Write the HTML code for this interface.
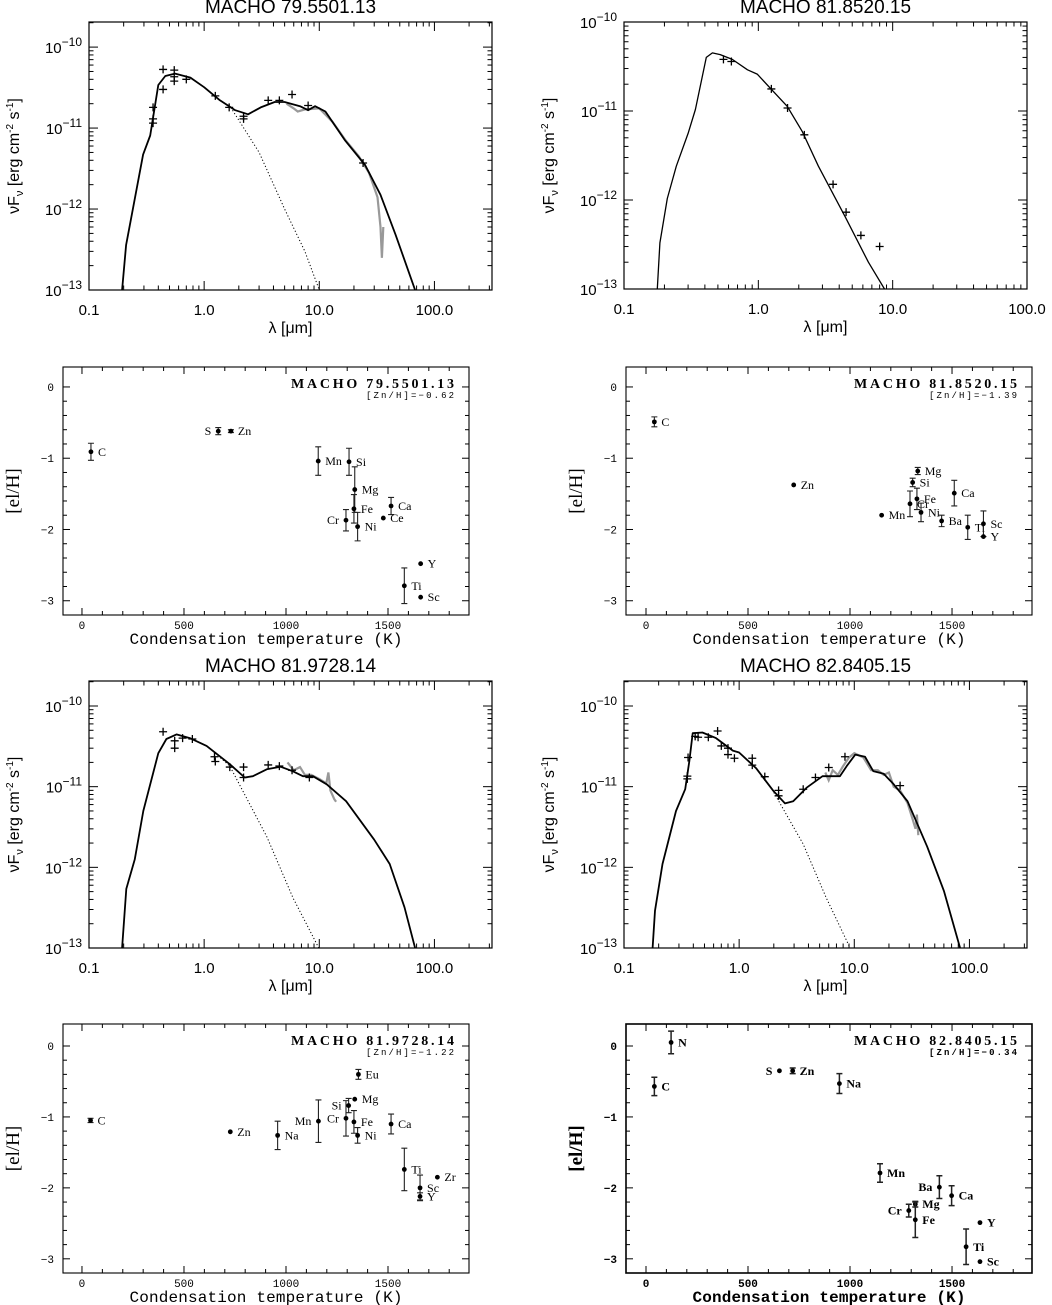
<!DOCTYPE html>
<html><head><meta charset="utf-8"><title>SED and abundance panels</title>
<style>
html,body{margin:0;padding:0;background:#fff;}
svg{display:block;}
</style></head>
<body>
<svg id="fig" width="1052" height="1305" viewBox="0 0 1052 1305" xmlns="http://www.w3.org/2000/svg"></svg>
<script>
// ---------- Panel 1: MACHO 79.5501.13 SED ----------
const p1ModelLam=[0.194,0.21,0.295,0.34,0.40,0.46,0.56,0.76,1.0,1.37,1.86,2.41,3.1,4.1,5.0,6.8,8.0,9.2,11.3,16.8,25,34,46,68];
const p1ModelF=[1e-13,3.6e-13,4.7e-12,8.1e-12,3.4e-11,4.4e-11,4.7e-11,4.2e-11,3.2e-11,2.2e-11,1.66e-11,1.48e-11,1.8e-11,2.1e-11,2.1e-11,1.86e-11,1.66e-11,1.86e-11,1.6e-11,7e-12,3.5e-12,1.5e-12,4.8e-13,1e-13];
const p1StarLam=[1.7,3,5,7.5,10];
const p1StarF=[1.8e-11,5e-12,1e-12,3e-13,1e-13];
const p1PhotLam=[0.36,0.36,0.36,0.44,0.44,0.55,0.55,0.55,0.7,1.25,1.65,2.2,2.2,3.6,4.5,5.8,8,24];
const p1PhotF=[1.8e-11,1.3e-11,1.15e-11,5.3e-11,3.0e-11,5.2e-11,4.3e-11,3.8e-11,4e-11,2.5e-11,1.8e-11,1.4e-11,1.3e-11,2.2e-11,2.2e-11,2.6e-11,1.9e-11,3.7e-12];
const p1SpecLam=[5.2,6,6.5,7.5,10,13,17,22,27,32,34,35,36];
const p1SpecF=[2.0e-11,1.75e-11,1.6e-11,1.7e-11,1.75e-11,1.2e-11,7e-12,4.5e-12,2.8e-12,1.4e-12,6e-13,2.5e-13,6e-13];
// ---------- Panel 2: MACHO 81.8520.15 SED ----------
const p2ModelLam=[0.177,0.185,0.21,0.245,0.30,0.34,0.41,0.455,0.52,0.64,0.83,0.98,1.23,1.64,2.12,2.8,4.4,6.6,8.7];
const p2ModelF=[1e-13,3.3e-13,1.04e-12,2.4e-12,5.6e-12,1.04e-11,4e-11,4.5e-11,4.3e-11,3.8e-11,2.9e-11,2.6e-11,1.8e-11,1.13e-11,5.9e-12,2.4e-12,6.6e-13,2e-13,1e-13];
const p2PhotLam=[0.55,0.63,1.25,1.65,2.2,3.6,4.5,5.8,8];
const p2PhotF=[3.8e-11,3.6e-11,1.77e-11,1.08e-11,5.4e-12,1.5e-12,7.3e-13,4e-13,3.0e-13];
// ---------- Panel 3: MACHO 81.9728.14 SED ----------
const p3ModelLam=[0.194,0.211,0.25,0.296,0.40,0.47,0.575,0.75,1.05,1.67,2.25,2.65,3.5,4.6,5.9,7.2,8.8,11.6,17.1,30,40.9,55,68];
const p3ModelF=[1e-13,5.4e-13,1.26e-12,5e-12,2.6e-11,3.9e-11,4.45e-11,4.0e-11,3.2e-11,1.9e-11,1.3e-11,1.35e-11,1.64e-11,1.77e-11,1.55e-11,1.35e-11,1.35e-11,1.07e-11,6.6e-12,2.2e-12,1.1e-12,3.2e-13,1e-13];
const p3StarLam=[1.25,1.67,3.5,5.9,9.9];
const p3StarF=[2.6e-11,1.8e-11,2.4e-12,4.2e-13,1e-13];
const p3PhotLam=[0.44,0.555,0.555,0.65,0.79,1.23,1.25,1.67,2.2,2.2,3.6,4.5,5.8,8.2];
const p3PhotF=[4.8e-11,3.7e-11,3e-11,4e-11,3.9e-11,2.35e-11,2.05e-11,1.75e-11,1.75e-11,1.3e-11,1.86e-11,1.8e-11,1.6e-11,1.3e-11];
const p3SpecLam=[5.3,6,6.8,7.5,8.5,10,11.5,12,12.5,13.5,14];
const p3SpecF=[2e-11,1.6e-11,1.75e-11,1.4e-11,1.4e-11,1.25e-11,1.1e-11,1.5e-11,9e-12,7e-12,6.5e-12];
// ---------- Panel 4: MACHO 82.8405.15 SED ----------
const p4ModelLam=[0.177,0.186,0.216,0.283,0.34,0.37,0.395,0.48,0.63,0.88,1.0,1.4,1.98,2.5,2.95,3.85,5.3,7.5,8.6,10.2,12.4,14.6,18,22,29,43,60,83];
const p4ModelF=[1e-13,2.9e-13,1.1e-12,5e-12,9.3e-12,2.1e-11,4.6e-11,4.7e-11,4e-11,2.8e-11,2.65e-11,1.7e-11,8.9e-12,6.2e-12,6.6e-12,9.7e-12,1.35e-11,1.35e-11,1.8e-11,2.5e-11,2.35e-11,1.56e-11,1.45e-11,1.07e-11,6.6e-12,1.8e-12,5.1e-13,1e-13];
const p4StarLam=[2.0,3.6,5.7,9.2];
const p4StarF=[8.5e-12,1.94e-12,4.2e-13,1e-13];
const p4PhotLam=[0.355,0.355,0.36,0.415,0.44,0.54,0.65,0.70,0.8,0.8,0.91,1.3,1.3,1.67,2.2,2.2,3.6,4.6,6.0,8.3,25];
const p4PhotF=[1.35e-11,1.25e-11,2.3e-11,4.2e-11,4.1e-11,4.1e-11,4.9e-11,3.2e-11,3e-11,2.5e-11,2.25e-11,2.25e-11,1.85e-11,1.33e-11,9e-12,7.7e-12,9.3e-12,1.3e-11,1.73e-11,2.35e-11,1.03e-11];
const p4SpecLam=[5.6,6,6.5,7.2,8,9,10,12,14,16,18,20,22,25,29,32,34,35,36];
const p4SpecF=[1.5e-11,1.2e-11,1.6e-11,1.4e-11,1.8e-11,2.3e-11,2.6e-11,2.3e-11,1.6e-11,1.6e-11,1.4e-11,1.5e-11,1e-11,9e-12,6.3e-12,4e-12,3e-12,4.5e-12,2.5e-12];

// ---------- Abundance panels ----------
const aEl=["C","S","Zn","Mn","Si","Mg","Fe","Cr","Ni","Ca","Ce","Y","Ti","Sc"];
const aT=[44,668,730,1158,1309,1337,1333,1294,1351,1515,1477,1660,1580,1660];
const aV=[-0.91,-0.62,-0.62,-1.04,-1.05,-1.44,-1.71,-1.87,-1.96,-1.67,-1.84,-2.48,-2.79,-2.95];
const aE=[0.12,0.05,0.02,0.2,0.19,0.32,0.2,0.15,0.2,0.12,0,0,0.25,0];
const aSide=["r","l","r","r","r","r","r","l","r","r","r","r","r","r"];

const bEl=["C","Zn","Mg","Si","Fe","Cr","Ni","Mn","Ba","Ca","Ti","Sc","Y"];
const bT=[41,724,1332,1307,1328,1294,1348,1155,1449,1511,1577,1654,1654];
const bV=[-0.49,-1.375,-1.18,-1.34,-1.57,-1.64,-1.76,-1.80,-1.88,-1.49,-1.97,-1.92,-2.1];
const bE=[0.07,0,0.05,0.06,0.15,0.18,0.13,0,0.08,0.18,0.17,0.18,0];
const bSide=["r","r","r","r","r","r","r","r","r","r","r","r","r"];

const cEl=["C","Zn","Na","Mn","Cr","Si","Mg","Eu","Fe","Ni","Ca","Ti","Zr","Sc","Y"];
const cT=[42,727,959,1159,1294,1307,1337,1355,1333,1351,1515,1580,1742,1657,1657];
const cV=[-1.05,-1.21,-1.26,-1.06,-1.02,-0.84,-0.75,-0.4,-1.07,-1.26,-1.10,-1.74,-1.85,-2.0,-2.12];
const cE=[0.03,0,0.2,0.3,0.25,0.1,0,0.07,0.16,0.11,0.14,0.3,0,0.18,0.05];
const cSide=["r","r","r","l","l","l","r","r","r","r","r","r","r","r","r"];

const dEl=["N","C","S","Zn","Na","Mn","Ba","Ca","Mg","Cr","Fe","Y","Ti","Sc"];
const dT=[123,41,654,719,948,1147,1438,1498,1320,1288,1320,1637,1569,1637];
const dV=[0.05,-0.57,-0.35,-0.35,-0.53,-1.79,-1.99,-2.11,-2.23,-2.32,-2.45,-2.49,-2.83,-3.04];
const dE=[0.16,0.13,0,0.04,0.14,0.13,0.16,0.14,0.04,0.09,0.25,0,0.25,0];
const dSide=["r","r","l","r","r","r","l","r","r","l","r","r","r","r"];

const xTickLabels=["0.1","1.0","10.0","100.0"];
const yTickExps=[-10,-11,-12,-13];
const tTicks=[0,500,1000,1500];
const vTicks=[0,-1,-2,-3];

const NS="http://www.w3.org/2000/svg";
const svg=document.getElementById("fig");
function el(tag,attrs,parent){const e=document.createElementNS(NS,tag);for(const k in attrs)e.setAttribute(k,attrs[k]);(parent||svg).appendChild(e);return e;}

function sedPanel(cfg){
  const g=el("g",{});
  
  
  const b=cfg.box;
  const X=l=>b.x0+(Math.log10(l)-cfg.xr[0])/(cfg.xr[1]-cfg.xr[0])*(b.x1-b.x0);
  const Y=f=>b.y0+(cfg.yr[0]-Math.log10(f))/(cfg.yr[0]-cfg.yr[1])*(b.y1-b.y0);
  const clip="clip"+cfg.id;
  const cp=el("clipPath",{id:clip},g);el("rect",{x:b.x0,y:b.y0,width:b.x1-b.x0,height:b.y1-b.y0},cp);
  const frame=el("rect",{x:b.x0,y:b.y0,width:b.x1-b.x0,height:b.y1-b.y0,fill:"none",stroke:"#000","stroke-width":1.2},g);
  
  
  const ax=el("g",{stroke:"#000","stroke-width":1},g);
  
  
  for(let d=Math.floor(cfg.xr[0]);d<=Math.ceil(cfg.xr[1]);d++){
    for(let m=1;m<10;m++){
      const lv=d+Math.log10(m);if(lv<cfg.xr[0]-1e-6||lv>cfg.xr[1]+1e-6)continue;
      const x=X(Math.pow(10,lv));const L=m===1?9:4.5;
      el("line",{x1:x,x2:x,y1:b.y1,y2:b.y1-L},ax);el("line",{x1:x,x2:x,y1:b.y0,y2:b.y0+L},ax);
    }
  }
  for(let d=Math.ceil(cfg.yr[1]);d<=Math.floor(cfg.yr[0])+1;d++){
    for(let m=1;m<10;m++){
      const lv=d+Math.log10(m);if(lv>cfg.yr[0]+1e-6||lv<cfg.yr[1]-1e-6)continue;
      const y=Y(Math.pow(10,lv));const L=m===1?9:4.5;
      el("line",{x1:b.x0,x2:b.x0+L,y1:y,y2:y},ax);el("line",{x1:b.x1,x2:b.x1-L,y1:y,y2:y},ax);
    }
  }
  xTickLabels.forEach((t,i)=>{
    const lv=-1+i; if(lv>cfg.xr[1]+1e-6)return;
    const tx=el("text",{x:X(Math.pow(10,lv)),y:b.y1+25,"text-anchor":"middle","font-family":"Liberation Sans, sans-serif","font-size":15},g);
    tx.textContent=t;
    
    
  });
  yTickExps.forEach(e=>{
    if(e>cfg.yr[0]+1e-6)return;
    const y=Y(Math.pow(10,e));
    const tx=el("text",{x:b.x0-7,y:y+6,"text-anchor":"end","font-family":"Liberation Sans, sans-serif","font-size":15},g);
    const s1=el("tspan",{},tx);s1.textContent="10";
    const s2=el("tspan",{dy:-7,"font-size":12},tx);s2.textContent="\u2212"+Math.abs(e);
    
    
  });
  const xt=el("text",{x:(b.x0+b.x1)/2,y:b.y1+43,"text-anchor":"middle","font-family":"Liberation Sans, DejaVu Sans, sans-serif","font-size":16},g);
  xt.textContent="\u03bb [\u03bcm]";
  
  
  const yc=(b.y0+b.y1)/2, yx=b.x0-70;
  const yt=el("text",{x:yx,y:yc,transform:`rotate(-90 ${yx} ${yc})`,"text-anchor":"middle","font-family":"Liberation Sans, DejaVu Sans, sans-serif","font-size":16},g);
  const a=el("tspan",{},yt);a.textContent="\u03bdF";
  const a2=el("tspan",{dy:4,"font-size":11},yt);a2.textContent="\u03bd";
  const a3=el("tspan",{dy:-4},yt);a3.textContent=" [erg cm";
  const a4=el("tspan",{dy:-6,"font-size":10},yt);a4.textContent="-2";
  const a5=el("tspan",{dy:6},yt);a5.textContent=" s";
  const a6=el("tspan",{dy:-6,"font-size":10},yt);a6.textContent="-1";
  const a7=el("tspan",{dy:6},yt);a7.textContent="]";
  
  
  const tt=el("text",{x:(b.x0+b.x1)/2,y:b.y0-9,"text-anchor":"middle","font-family":"Liberation Sans, sans-serif","font-size":19},g);
  tt.textContent=cfg.title;
  
  
  const pg=el("g",{"clip-path":`url(#${clip})`},g);
  const path=(lam,f)=>lam.map((l,i)=>(i?"L":"M")+X(l).toFixed(1)+","+Y(f[i]).toFixed(1)).join("");
  if(cfg.specLam){
    const s=el("path",{d:path(cfg.specLam,cfg.specF),fill:"none",stroke:"#999","stroke-width":2.2},pg);
    
    
  }
  if(cfg.starLam){
    const s=el("path",{d:path(cfg.starLam,cfg.starF),fill:"none",stroke:"#000","stroke-width":1,"stroke-dasharray":"1.2,2.2"},pg);
    
    
  }
  const m=el("path",{d:path(cfg.modelLam,cfg.modelF),fill:"none",stroke:"#000","stroke-width":cfg.lw||1.8,"stroke-linejoin":"round"},pg);
  
  
  const pts=el("g",{stroke:"#000","stroke-width":1.3},pg);
  
  
  cfg.photLam.forEach((l,i)=>{
    const x=X(l),y=Y(cfg.photF[i]);
    const p=el("path",{d:`M${x-4},${y}H${x+4}M${x},${y-4}V${y+4}`},pts);
    
    
  });
}

function abPanel(cfg){
  const g=el("g",{});
  
  
  const b=cfg.box;
  const X=t=>b.x0+(t-cfg.xr[0])/(cfg.xr[1]-cfg.xr[0])*(b.x1-b.x0);
  const Y=v=>b.y0+(cfg.yr[0]-v)/(cfg.yr[0]-cfg.yr[1])*(b.y1-b.y0);
  const bold=cfg.bold?"bold":"normal";
  const frame=el("rect",{x:b.x0,y:b.y0,width:b.x1-b.x0,height:b.y1-b.y0,fill:"none",stroke:"#000","stroke-width":cfg.bold?1.6:1.1},g);
  
  
  const ax=el("g",{stroke:"#000","stroke-width":1},g);
  
  
  for(let t=0;t<=cfg.xr[1];t+=100){const x=X(t),L=t%500===0?7:4;
    el("line",{x1:x,x2:x,y1:b.y1,y2:b.y1-L},ax);el("line",{x1:x,x2:x,y1:b.y0,y2:b.y0+L},ax);}
  for(let k=0;k>=-16;k--){const v=k*0.2;if(v<cfg.yr[1])break;const y=Y(v),L=k%5===0?7:4;
    el("line",{x1:b.x0,x2:b.x0+L,y1:y,y2:y},ax);el("line",{x1:b.x1,x2:b.x1-L,y1:y,y2:y},ax);}
  tTicks.forEach(t=>{
    const tx=el("text",{x:X(t),y:b.y1+14,"text-anchor":"middle","font-family":"Liberation Mono, monospace","font-size":11,"font-weight":bold},g);
    tx.textContent=String(t);
    
    
  });
  vTicks.forEach(v=>{
    const tx=el("text",{x:b.x0-9,y:Y(v)+4,"text-anchor":"end","font-family":"Liberation Mono, monospace","font-size":11,"font-weight":bold},g);
    tx.textContent=v===0?"0":"\u2212"+Math.abs(v);
    
    
  });
  const xt=el("text",{x:(b.x0+b.x1)/2,y:b.y1+29,"text-anchor":"middle","font-family":"Liberation Mono, monospace","font-size":16,"font-weight":bold,textLength:273},g);
  xt.textContent="Condensation temperature (K)";
  
  
  const yc=(b.y0+b.y1)/2, yx=b.x0-44;
  const yt=el("text",{x:yx,y:yc,transform:`rotate(-90 ${yx} ${yc})`,"text-anchor":"middle","font-family":"Liberation Serif, serif","font-size":19,"font-weight":bold},g);
  yt.textContent="[el/H]";
  
  
  const tt=el("text",{x:b.x1-15,y:b.y0+21,"text-anchor":"end","font-family":"Liberation Serif, serif","font-size":14,"font-weight":"bold",textLength:163},g);
  tt.textContent=cfg.title;
  
  
  const st=el("text",{x:b.x1-15,y:b.y0+31,"text-anchor":"end","font-family":"Liberation Mono, monospace","font-size":9,"font-weight":bold,textLength:88},g);
  st.textContent=cfg.sub;
  
  
  cfg.els.forEach((name,i)=>{
    const x=X(cfg.T[i]),y=Y(cfg.V[i]),e=cfg.E[i];
    const pg=el("g",{},g);
    
    
    if(e>0){
      const y1=Y(cfg.V[i]+e),y2=Y(cfg.V[i]-e);
      el("path",{d:`M${x},${y1}V${y2}M${x-3},${y1}H${x+3}M${x-3},${y2}H${x+3}`,stroke:"#222","stroke-width":cfg.bold?1.5:1.1,fill:"none"},pg);
    }
    el("circle",{cx:x,cy:y,r:2.4,fill:"#000"},pg);
    const r=cfg.side[i]==="r";
    const lb=el("text",{x:r?x+7:x-7,y:y+4,"text-anchor":r?"start":"end","font-family":"Liberation Serif, serif","font-size":12,"font-weight":bold},pg);
    lb.textContent=name;
  });
}

sedPanel({id:1,name:"sed-panel-79-5501-13",title:"MACHO 79.5501.13",box:{x0:89,x1:492,y0:22,y1:290},xr:[-1,2.5],yr:[-9.69,-13],
  modelLam:p1ModelLam,modelF:p1ModelF,starLam:p1StarLam,starF:p1StarF,photLam:p1PhotLam,photF:p1PhotF,specLam:p1SpecLam,specF:p1SpecF});
sedPanel({id:2,name:"sed-panel-81-8520-15",title:"MACHO 81.8520.15",box:{x0:624,x1:1027,y0:22,y1:289},xr:[-1,2],yr:[-10,-13],lw:1.3,
  modelLam:p2ModelLam,modelF:p2ModelF,photLam:p2PhotLam,photF:p2PhotF});
sedPanel({id:3,name:"sed-panel-81-9728-14",title:"MACHO 81.9728.14",box:{x0:89,x1:492,y0:681,y1:948},xr:[-1,2.5],yr:[-9.69,-13],
  modelLam:p3ModelLam,modelF:p3ModelF,starLam:p3StarLam,starF:p3StarF,photLam:p3PhotLam,photF:p3PhotF,specLam:p3SpecLam,specF:p3SpecF});
sedPanel({id:4,name:"sed-panel-82-8405-15",title:"MACHO 82.8405.15",box:{x0:624,x1:1027,y0:681,y1:948},xr:[-1,2.5],yr:[-9.69,-13],
  modelLam:p4ModelLam,modelF:p4ModelF,starLam:p4StarLam,starF:p4StarF,photLam:p4PhotLam,photF:p4PhotF,specLam:p4SpecLam,specF:p4SpecF});

abPanel({name:"abundance-panel-79-5501-13",title:"MACHO 79.5501.13",sub:"[Zn/H]=\u22120.62",box:{x0:63,x1:469,y0:367,y1:615},xr:[-93,1897],yr:[0.28,-3.2],
  els:aEl,T:aT,V:aV,E:aE,side:aSide});
abPanel({name:"abundance-panel-81-8520-15",title:"MACHO 81.8520.15",sub:"[Zn/H]=\u22121.39",box:{x0:626,x1:1032,y0:367,y1:615},xr:[-98,1892],yr:[0.28,-3.2],
  els:bEl,T:bT,V:bV,E:bE,side:bSide});
abPanel({name:"abundance-panel-81-9728-14",title:"MACHO 81.9728.14",sub:"[Zn/H]=\u22121.22",box:{x0:63,x1:469,y0:1024,y1:1273},xr:[-93,1897],yr:[0.31,-3.2],
  els:cEl,T:cT,V:cV,E:cE,side:cSide});
abPanel({name:"abundance-panel-82-8405-15",title:"MACHO 82.8405.15",sub:"[Zn/H]=\u22120.34",bold:true,box:{x0:626,x1:1032,y0:1024,y1:1273},xr:[-98,1892],yr:[0.31,-3.2],
  els:dEl,T:dT,V:dV,E:dE,side:dSide});
</script>
</body></html>
